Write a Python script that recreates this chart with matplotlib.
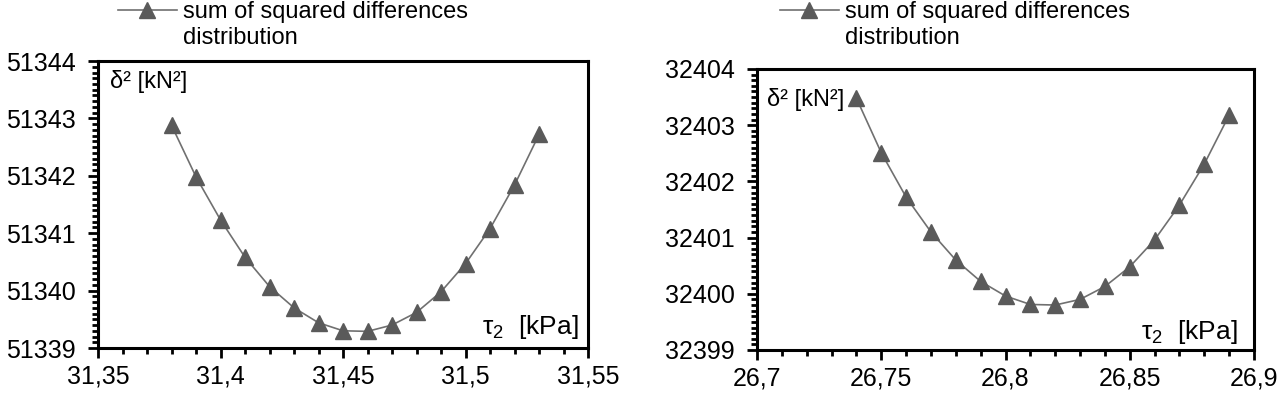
import numpy as np
import matplotlib
matplotlib.use("Agg")
import matplotlib.pyplot as plt
from matplotlib.ticker import MultipleLocator, FuncFormatter
from matplotlib.lines import Line2D

plt.rcParams['font.family'] = ['Liberation Sans', 'DejaVu Sans']

# ---- data ----
tau_left = [31.38, 31.39, 31.40, 31.41, 31.42, 31.43, 31.44, 31.45,
            31.46, 31.47, 31.48, 31.49, 31.50, 31.51, 31.52, 31.53]
ssd_left = [51342.88, 51341.98, 51341.23, 51340.58, 51340.07, 51339.70, 51339.44, 51339.30,
            51339.29, 51339.40, 51339.62, 51339.98, 51340.47, 51341.08, 51341.84, 51342.72]

tau_right = [26.74, 26.75, 26.76, 26.77, 26.78, 26.79, 26.80, 26.81,
             26.82, 26.83, 26.84, 26.85, 26.86, 26.87, 26.88, 26.89]
ssd_right = [32403.48, 32402.51, 32401.72, 32401.10, 32400.60, 32400.22, 32399.96, 32399.81,
             32399.80, 32399.90, 32400.13, 32400.48, 32400.96, 32401.58, 32402.31, 32403.18]

legend_label = "sum of squared differences"
legend_label2 = "distribution"

LINE_C = "#707070"
MARK_C = "#5a5a5a"
FS = 18


def comma(v, pos):
    return ("%g" % v).replace(".", ",")


def style(ax, xlim, xmaj, ylim):
    ax.set_xlim(*xlim)
    ax.set_ylim(*ylim)
    ax.xaxis.set_major_locator(MultipleLocator(xmaj))
    ax.xaxis.set_minor_locator(MultipleLocator(0.01))
    ax.yaxis.set_major_locator(MultipleLocator(1))
    ax.yaxis.set_minor_locator(MultipleLocator(0.1))
    ax.xaxis.set_major_formatter(FuncFormatter(comma))
    ax.yaxis.set_major_formatter(FuncFormatter(lambda v, p: "%d" % round(v)))
    for s in ax.spines.values():
        s.set_linewidth(2.2)
    ax.tick_params(which="major", direction="out", length=7, width=2, labelsize=FS, pad=5)
    ax.tick_params(which="minor", direction="out", length=4.5, width=2)
    ax.tick_params(axis="y", which="major", pad=9)


fig = plt.figure(figsize=(12.8, 3.96), dpi=100)
ax1 = fig.add_axes([0.0766, 0.1212, 0.3828, 0.7247])
ax2 = fig.add_axes([0.5914, 0.1162, 0.3883, 0.7096])

panels = [
    (ax1, tau_left, ssd_left, (31.35, 31.55), (51339, 51344), 0.092, (0.024, 0.93), (0.98, 0.05)),
    (ax2, tau_right, ssd_right, (26.7, 26.9), (32399, 32404), 0.609, (0.02, 0.89), (0.966, 0.04)),
]

for ax, x, y, xl, yl, lx, dpos, tpos in panels:
    ax.plot(x, y, color=LINE_C, lw=1.2, marker="^", markersize=11,
            markerfacecolor=MARK_C, markeredgecolor=MARK_C, clip_on=False)
    style(ax, xl, 0.05, yl)
    ax.text(dpos[0], dpos[1], "\u03b4\u00b2 [kN\u00b2]", transform=ax.transAxes,
            fontsize=FS - 1, ha="left", va="center")
    ax.text(tpos[0], tpos[1], r"$\mathregular{\tau_2}$  [kPa]", transform=ax.transAxes,
            fontsize=FS + 1, ha="right", va="baseline")
    h1 = Line2D([], [], color=LINE_C, lw=1.2, marker="^", markersize=11,
                markerfacecolor=MARK_C, markeredgecolor=MARK_C)
    h2 = Line2D([], [], alpha=0)
    fig.legend([h1, h2], [legend_label, legend_label2], loc="upper left",
               bbox_to_anchor=(lx, 0.997), bbox_transform=fig.transFigure,
               frameon=False, fontsize=FS - 1, borderpad=0, borderaxespad=0,
               handlelength=59 / ((FS - 1) * 1.389), handletextpad=6 / ((FS - 1) * 1.389),
               labelspacing=0.15)

fig.savefig("out.png", dpi=100)
